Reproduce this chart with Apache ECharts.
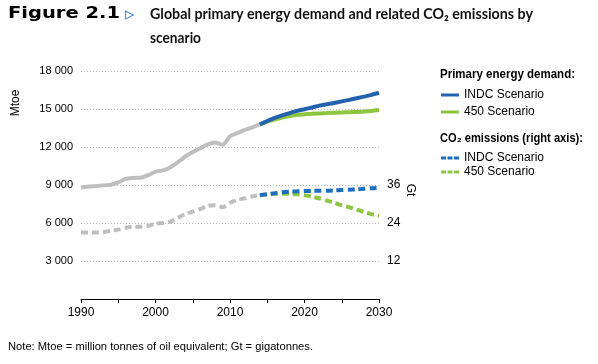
<!DOCTYPE html>
<html>
<head>
<meta charset="utf-8">
<script src="https://cdn.jsdelivr.net/npm/echarts@6/dist/echarts.min.js"></script>
<style>html,body{margin:0;padding:0;background:#fff}#c{width:598px;height:364px}</style>
</head>
<body>
<div id="c"></div>
<script>
// ---- data ----
const histYears = [1990,1991,1992,1993,1994,1995,1996,1997,1998,1999,2000,2001,2002,2003,2004,2005,2006,2007,2008,2009,2010,2011,2012,2013,2014];
const histEnergy = [8800,8880,8920,8970,9020,9200,9480,9560,9580,9780,10050,10150,10400,10800,11250,11600,11900,12200,12350,12180,12850,13100,13350,13550,13780];
const histCO2 = [21.0,21.0,21.0,21.1,21.5,21.9,22.5,22.8,22.8,23.1,23.8,24.0,24.4,25.6,26.8,27.6,28.4,29.4,29.6,29.0,30.4,31.3,31.8,32.4,32.8];
const projYears = [2014,2015,2016,2017,2018,2019,2020,2021,2022,2023,2024,2025,2026,2027,2028,2029,2030];
const indcEnergy = [13780,14050,14300,14500,14680,14850,14980,15120,15270,15380,15480,15600,15720,15850,15980,16120,16280];
const s450Energy = [13780,14000,14170,14330,14450,14540,14580,14620,14650,14680,14710,14730,14750,14770,14800,14850,14920];
const indcCO2 = [32.8,33.1,33.4,33.7,33.9,34.0,34.1,34.1,34.2,34.2,34.3,34.4,34.5,34.6,34.8,35.0,35.1];
const s450CO2 = [32.8,33.0,33.2,33.2,33.2,33.1,32.8,32.3,31.8,31.1,30.4,29.6,29.0,28.2,27.5,26.8,26.2];
const rightTicks = [12,24,36];

const GRAY = '#BFBFBF', BLUE = '#2262AE', GREEN = '#8DC540', BLUE2 = '#1E6EC0';
const pair = (xs, ys) => xs.map((x,i)=>[x, ys[i]]);
const FONT = '"Liberation Sans", Arial, sans-serif';
const DASH_ICON = 'path://M0,0h5v3h-5zM6.5,0h5v3h-5zM13,0h5v3h-5z';

function measure(text, font){
  const c = document.createElement('canvas').getContext('2d');
  c.font = font; return c.measureText(text).width;
}
function fitText(text, font, x, y, targetW, color, extra){
  const w = measure(text, font);
  return Object.assign({type:'text', x:x, y:y, scaleX: targetW / w,
    style:{text:text, font:font, fill:color, textVerticalAlign:'middle', textAlign:'left'}}, extra||{});
}

const chart = echarts.init(document.getElementById('c'), null, {renderer:'canvas'});
const titleFont1 = 'bold 16px "DejaVu Sans", sans-serif';
const titleFont2 = 'bold 16px Lato, "DejaVu Sans", sans-serif';
const headFont = 'bold 12px "Liberation Sans", "DejaVu Sans", sans-serif';

const option = {
  animation:false,
  grid:{left:81, right:219, top:71, bottom:65, containLabel:false},
  xAxis:{type:'value', min:1990, max:2030, interval:5,
    axisLine:{show:true, lineStyle:{color:'#000', width:1}},
    axisTick:{show:true, length:4, lineStyle:{color:'#000'}},
    axisLabel:{formatter:v => (v%10===0 ? String(v) : ''), color:'#000', fontSize:12, fontFamily:FONT, margin:8, showMinLabel:true, showMaxLabel:true},
    splitLine:{show:false}},
  yAxis:[
    {type:'value', min:0, max:18000, interval:3000, position:'left',
      axisLine:{show:false}, axisTick:{show:false},
      axisLabel:{formatter:v => v===0 ? '' : String(v).replace(/\B(?=(\d{3})+(?!\d))/g,' '), color:'#000', fontSize:11, fontFamily:FONT, margin:8},
      splitLine:{show:true, lineStyle:{color:'#BBBBBB', type:[1,2], width:1}}},
    {type:'value', min:0, max:72, interval:12, position:'right',
      axisLine:{show:false}, axisTick:{show:false},
      axisLabel:{formatter:v => rightTicks.indexOf(v)>=0 ? String(v) : '', color:'#000', fontSize:12, fontFamily:FONT, margin:8},
      splitLine:{show:false}}
  ],
  legend:[
    {orient:'vertical', left:436, top:84, itemWidth:18, itemHeight:3, itemGap:5, icon:'rect',
      data:['INDC Scenario|E','450 Scenario|E'], formatter:n=>n.split('|')[0],
      textStyle:{fontSize:12, fontFamily:FONT, color:'#000'}, selectedMode:false},
    {orient:'vertical', left:436, top:147, itemWidth:18, itemHeight:3, itemGap:2, icon:DASH_ICON,
      data:['INDC Scenario|C','450 Scenario|C'], formatter:n=>n.split('|')[0],
      textStyle:{fontSize:12, fontFamily:FONT, color:'#000'}, selectedMode:false}
  ],
  series:[
    {name:'hist energy', type:'line', yAxisIndex:0, data:pair(histYears, histEnergy), symbol:'none', smooth:0.25,
      lineStyle:{color:GRAY, width:4}, itemStyle:{color:GRAY}, z:2},
    {name:'hist co2', type:'line', yAxisIndex:1, data:pair(histYears, histCO2), symbol:'none', smooth:0.25,
      lineStyle:{color:GRAY, width:4, type:[7,4]}, itemStyle:{color:GRAY}, z:2},
    {name:'450 Scenario|E', type:'line', yAxisIndex:0, data:pair(projYears, s450Energy), symbol:'none', smooth:0.2,
      lineStyle:{color:GREEN, width:4}, itemStyle:{color:GREEN}, z:3},
    {name:'INDC Scenario|E', type:'line', yAxisIndex:0, data:pair(projYears, indcEnergy), symbol:'none', smooth:0.2,
      lineStyle:{color:BLUE, width:4}, itemStyle:{color:BLUE}, z:4},
    {name:'450 Scenario|C', type:'line', yAxisIndex:1, data:pair(projYears, s450CO2), symbol:'none', smooth:0.2,
      lineStyle:{color:GREEN, width:4, type:[7,4]}, itemStyle:{color:GREEN}, z:3},
    {name:'INDC Scenario|C', type:'line', yAxisIndex:1, data:pair(projYears, indcCO2), symbol:'none', smooth:0.2,
      lineStyle:{color:BLUE2, width:4, type:[7,4]}, itemStyle:{color:BLUE2}, z:4}
  ],
  graphic:[
    fitText('Figure 2.1', titleFont1, 8, 14, 112, '#000'),
    {type:'text', x:125, y:15, style:{text:'\u25B9', font:'19px "DejaVu Sans", sans-serif', fill:'#3C8AD6', textVerticalAlign:'middle'}},
    fitText('Global primary energy demand and related CO\u2082 emissions by', titleFont2, 150, 14, 383, '#111'),
    fitText('scenario', titleFont2, 150, 38, 51, '#111'),
    fitText('Primary energy demand:', headFont, 440, 75, 135, '#000'),
    fitText('CO\u2082 emissions (right axis):', headFont, 440, 139, 143, '#000'),
    {type:'text', x:16, y:103, rotation:Math.PI/2, style:{text:'Mtoe', font:'12px '+FONT, fill:'#000', textAlign:'center', textVerticalAlign:'middle'}},
    {type:'text', x:410, y:190, rotation:-Math.PI/2, style:{text:'Gt', font:'12px '+FONT, fill:'#000', textAlign:'center', textVerticalAlign:'middle'}},
    fitText('Note: Mtoe = million tonnes of oil equivalent; Gt = gigatonnes.', '11px '+FONT, 8, 347, 305, '#000')
  ]
};
chart.setOption(option);
</script>
</body>
</html>
